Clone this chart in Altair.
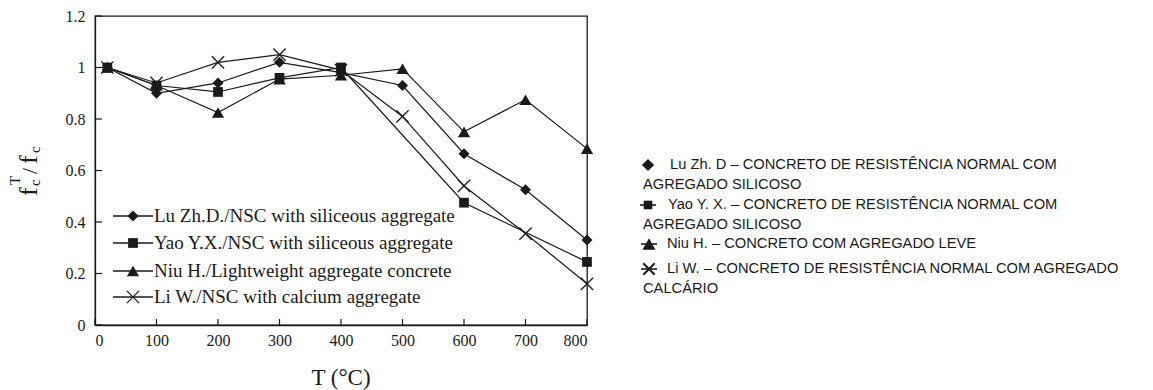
import altair as alt
import pandas as pd

# Residual compressive strength ratio f_c^T / f_c versus temperature
series_names = ["Lu", "Yao", "Niu", "Li"]

temps_lu = [20, 100, 200, 300, 400, 500, 600, 700, 800]
ratio_lu = [1.0, 0.90, 0.94, 1.02, 0.98, 0.93, 0.665, 0.525, 0.33]

temps_yao = [20, 100, 200, 300, 400, 600, 800]
ratio_yao = [1.0, 0.93, 0.905, 0.96, 1.0, 0.475, 0.245]

temps_niu = [20, 100, 200, 300, 400, 500, 600, 700, 800]
ratio_niu = [1.0, 0.93, 0.825, 0.955, 0.97, 0.995, 0.75, 0.875, 0.685]

temps_li = [20, 100, 200, 300, 400, 500, 600, 700, 800]
ratio_li = [1.0, 0.94, 1.02, 1.05, 0.99, 0.81, 0.54, 0.355, 0.16]

legend_labels = [
    "Lu Zh.D./NSC with siliceous aggregate",
    "Yao Y.X./NSC with siliceous aggregate",
    "Niu H./Lightweight aggregate concrete",
    "Li W./NSC with calcium aggregate",
]

side_lines = [
    "Lu Zh. D \u2013 CONCRETO DE RESIST\u00caNCIA NORMAL COM",
    "AGREGADO SILICOSO",
    "Yao Y. X. \u2013 CONCRETO DE RESIST\u00caNCIA NORMAL COM",
    "AGREGADO SILICOSO",
    "Niu H. \u2013 CONCRETO COM AGREGADO LEVE",
    "Li W. \u2013 CONCRETO DE RESIST\u00caNCIA NORMAL COM AGREGADO",
    "CALC\u00c1RIO",
]
side_marker_series = ["Lu", None, "Yao", None, "Niu", "Li", None]

x_ticks = [0, 100, 200, 300, 400, 500, 600, 700, 800]
y_ticks = [0, 0.2, 0.4, 0.6, 0.8, 1.0, 1.2]

W, H = 492, 309
SERIF = "Liberation Serif"
SANS = "Liberation Sans"
INK = "#1a1a1a"

rows = []
for name, ts, vs in [("Lu", temps_lu, ratio_lu), ("Yao", temps_yao, ratio_yao),
                     ("Niu", temps_niu, ratio_niu), ("Li", temps_li, ratio_li)]:
    for t, v in zip(ts, vs):
        rows.append({"series": name, "T": t, "ratio": v})
df = pd.DataFrame(rows)

shape_scale = alt.Scale(
    domain=series_names,
    range=["diamond", "square", "triangle-up", "M-1,-1L1,1M-1,1L1,-1"],
)


def size_expr(lu, yao, niu, li):
    """Vega expression giving a symbol area per series."""
    return (f"datum.series == 'Lu' ? {lu} : datum.series == 'Yao' ? {yao} : "
            f"datum.series == 'Niu' ? {niu} : {li}")


PLOT_SIZES = size_expr(120, 95, 150, 150)
SIDE_SIZES = size_expr(150, 75, 170, 130)

xs = alt.Scale(domain=[0, 800], nice=False)
ys = alt.Scale(domain=[0, 1.2], nice=False)

x_axis = alt.Axis(values=x_ticks, format="d", tickSize=0, grid=False, labelFont=SERIF,
                  labelFontSize=16, labelColor=INK, labelPadding=7, domainColor=INK,
                  domainWidth=1.3, title=None)
y_axis = alt.Axis(values=y_ticks, format="~g", tickSize=0, grid=False, labelFont=SERIF,
                  labelFontSize=16, labelColor=INK, labelPadding=10, domainColor=INK,
                  domainWidth=1.3, title=None)

lines = alt.Chart(df).mark_line(color=INK, strokeWidth=1.2).encode(
    x=alt.X("T:Q", scale=xs, axis=x_axis),
    y=alt.Y("ratio:Q", scale=ys, axis=y_axis),
    detail="series:N",
)

filled_pts = alt.Chart(df).transform_filter(alt.datum.series != "Li").transform_calculate(
    sz=PLOT_SIZES
).mark_point(filled=True, color=INK, opacity=1).encode(
    x=alt.X("T:Q", scale=xs),
    y=alt.Y("ratio:Q", scale=ys),
    shape=alt.Shape("series:N", scale=shape_scale, legend=None),
    size=alt.Size("sz:Q", scale=None, legend=None),
)

x_pts = alt.Chart(df).transform_filter(alt.datum.series == "Li").mark_point(
    filled=False, color=INK, strokeWidth=1.3, opacity=1, size=150
).encode(
    x=alt.X("T:Q", scale=xs),
    y=alt.Y("ratio:Q", scale=ys),
    shape=alt.Shape("series:N", scale=shape_scale, legend=None),
)

# Inward tick marks on both axes
xtick_df = pd.DataFrame({"T": x_ticks})
ytick_df = pd.DataFrame({"v": y_ticks})
xtick_rules = alt.Chart(xtick_df).mark_rule(color=INK, strokeWidth=1.2).encode(
    x=alt.X("T:Q", scale=xs), y=alt.value(H), y2=alt.value(H - 6)
)
ytick_rules = alt.Chart(ytick_df).mark_rule(color=INK, strokeWidth=1.2).encode(
    y=alt.Y("v:Q", scale=ys), x=alt.value(0), x2=alt.value(7)
)

# Legend inside the plot
leg_df = pd.DataFrame({
    "series": series_names,
    "label": legend_labels,
    "ly": [200, 227, 255, 281],
    "lx1": [18] * 4,
    "lx2": [58] * 4,
    "mx": [38] * 4,
    "tx": [59] * 4,
})
leg_lines = alt.Chart(leg_df).mark_rule(color=INK, strokeWidth=1.4).encode(
    x=alt.X("lx1:Q", scale=None), x2="lx2:Q", y=alt.Y("ly:Q", scale=None)
)
leg_filled = alt.Chart(leg_df).transform_filter(alt.datum.series != "Li").transform_calculate(
    sz=PLOT_SIZES
).mark_point(filled=True, color=INK, opacity=1).encode(
    x=alt.X("mx:Q", scale=None), y=alt.Y("ly:Q", scale=None),
    shape=alt.Shape("series:N", scale=shape_scale, legend=None),
    size=alt.Size("sz:Q", scale=None, legend=None),
)
leg_x = alt.Chart(leg_df).transform_filter(alt.datum.series == "Li").mark_point(
    filled=False, color=INK, strokeWidth=1.3, opacity=1, size=150
).encode(
    x=alt.X("mx:Q", scale=None), y=alt.Y("ly:Q", scale=None),
    shape=alt.Shape("series:N", scale=shape_scale, legend=None),
)
leg_text = alt.Chart(leg_df).mark_text(
    align="left", baseline="middle", font=SERIF, fontSize=19, color=INK
).encode(x=alt.X("tx:Q", scale=None), y=alt.Y("ly:Q", scale=None), text="label:N")

# Portuguese key to the right of the plot
side_df = pd.DataFrame({
    "text": side_lines,
    "series": side_marker_series,
    "py": [149, 169, 189, 209, 228, 253, 273],
    "px": [575, 548, 573, 548, 572, 572, 548],
    "mx": [553, None, 553, None, 554, 554, None],
})
side_text = alt.Chart(side_df).mark_text(
    align="left", baseline="middle", font=SANS, fontSize=14.7, color=INK
).encode(x=alt.X("px:Q", scale=None), y=alt.Y("py:Q", scale=None), text="text:N")

side_mk = side_df.dropna(subset=["series"])
side_filled = alt.Chart(side_mk).transform_filter(alt.datum.series != "Li").transform_calculate(
    sz=SIDE_SIZES
).mark_point(filled=True, color=INK, opacity=1).encode(
    x=alt.X("mx:Q", scale=None), y=alt.Y("py:Q", scale=None),
    shape=alt.Shape("series:N", scale=shape_scale, legend=None),
    size=alt.Size("sz:Q", scale=None, legend=None),
)
side_x = alt.Chart(side_mk).transform_filter(alt.datum.series == "Li").mark_point(
    filled=False, color=INK, strokeWidth=2, opacity=1, size=130
).encode(
    x=alt.X("mx:Q", scale=None), y=alt.Y("py:Q", scale=None),
    shape=alt.Shape("series:N", scale=shape_scale, legend=None),
)
side_dash = alt.Chart(side_mk).transform_filter(alt.datum.series != "Lu").transform_calculate(
    a="datum.mx - 8", b="datum.mx + 8"
).mark_rule(color=INK, strokeWidth=1.6).encode(
    x=alt.X("a:Q", scale=None), x2="b:Q", y=alt.Y("py:Q", scale=None)
)

# Axis titles: f_c^T / f_c (rotated) and T (°C)
ylab_df = pd.DataFrame({
    "s": ["f", "c", "T", "/", "f", "c"],
    "px": [-58, -55, -75, -58, -58, -55],
    "py": [180, 170, 169, 158, 148, 137],
    "fs": [26, 15, 15, 22, 26, 15],
})
ylab = alt.Chart(ylab_df).mark_text(
    angle=270, align="left", baseline="alphabetic", font=SERIF, color=INK
).encode(
    x=alt.X("px:Q", scale=None), y=alt.Y("py:Q", scale=None), text="s:N",
    size=alt.Size("fs:Q", scale=None, legend=None),
)
xlab_df = pd.DataFrame({"s": ["T (\u00b0C)"], "px": [W / 2], "py": [H + 60]})
xlab = alt.Chart(xlab_df).mark_text(
    align="center", baseline="alphabetic", font=SERIF, fontSize=23, color=INK
).encode(x=alt.X("px:Q", scale=None), y=alt.Y("py:Q", scale=None), text="s:N")

chart = alt.layer(
    lines, filled_pts, x_pts, xtick_rules, ytick_rules,
    leg_lines, leg_filled, leg_x, leg_text,
    side_text, side_dash, side_filled, side_x,
    ylab, xlab,
).resolve_scale(shape="shared", size="independent").properties(
    width=W, height=H,
    autosize=alt.AutoSizeParams(type="none"),
    padding={"left": 95, "top": 16, "right": 566, "bottom": 65},
    background="white",
).configure_view(stroke=INK, strokeWidth=1.3)

chart.save("out.html", embed_options={"renderer": "svg", "actions": False})
